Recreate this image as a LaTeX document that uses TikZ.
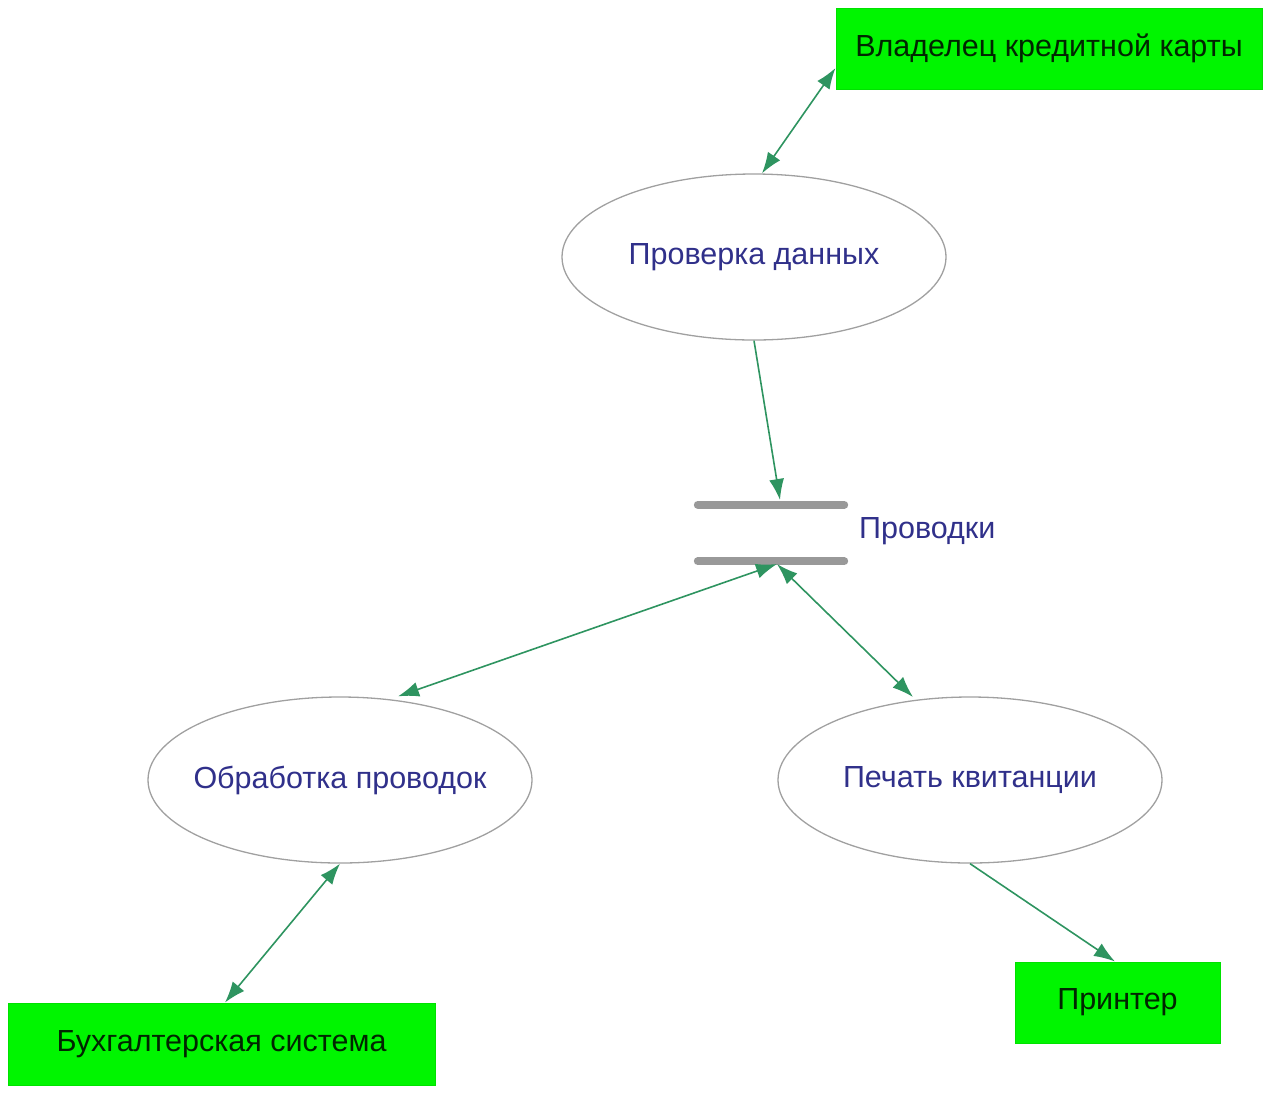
\documentclass[tikz,border=0pt]{standalone}
\usepackage{fontspec}
\setmainfont{Liberation Sans}
\usetikzlibrary{shapes.geometric,arrows.meta}
\definecolor{boxgreen}{HTML}{00F500}
\definecolor{flow}{HTML}{2E9460}
\definecolor{navytxt}{HTML}{30308A}
\definecolor{ellgray}{HTML}{A0A0A0}
\definecolor{storegray}{HTML}{999999}
\tikzset{
  ext/.style={fill=boxgreen, draw=boxgreen!80!black!40!boxgreen, line width=1pt, inner sep=0pt, font=\fontsize{30.5}{32}\selectfont, text=black!85!green},
  proc/.style={ellipse, draw=ellgray, line width=1.3pt, minimum width=384pt, minimum height=166pt, inner sep=0pt},
  proctext/.style={font=\fontsize{30.5}{32}\selectfont, text=navytxt, inner sep=0pt},
  flowline/.style={draw=flow, line width=1.6pt},
  tip/.style={-{Latex[length=21pt,width=15pt]}},
  dtip/.style={{Latex[length=21pt,width=15pt]}-{Latex[length=21pt,width=15pt]}},
  storebar/.style={draw=storegray, line width=8pt, line cap=round}
}
\begin{document}
\begin{tikzpicture}[x=1pt,y=-1pt]
\useasboundingbox (0,0) rectangle (1274,1096);
\node[ext, minimum width=426pt, minimum height=81pt] (owner) at (1049,48.5) {Владелец кредитной карты};
\node[proc] (check) at (754,257) {};
\node[proctext] (checkt) at (check.center) {Проверка данных};
\node[minimum width=154pt, minimum height=56pt, inner sep=0pt] (store) at (771,533) {};
\draw[storebar] ([xshift=4pt]store.north west) -- ([xshift=-4pt]store.north east);
\draw[storebar] ([xshift=4pt]store.south west) -- ([xshift=-4pt]store.south east);
\node[anchor=west, proctext] (storelbl) at (859,531) {Проводки};
\node[proc] (proc2) at (340,780) {};
\node[proctext] (proc2t) at (proc2.center) {Обработка проводок};
\node[proc] (print) at (970,780) {};
\node[proctext] (printt) at (print.center) {Печать квитанции};
\node[ext, minimum width=427pt, minimum height=82pt] (acct) at (221.5,1044) {Бухгалтерская система};
\node[ext, minimum width=205pt, minimum height=81pt] (printer) at (1117.5,1002.5) {Принтер};
\coordinate (stin) at (780,500);
\coordinate (stout) at (777,564);
\draw[flowline, dtip] (owner.west |- 0,68) -- (check.north -| 762,0);
\draw[flowline, tip] (check.south) -- (stin);
\draw[flowline, dtip] (stout) -- (proc2.north -| 398,0);
\draw[flowline, dtip] (stout) -- (913,697);
\draw[flowline, dtip] (proc2.south) -- (acct.north -| 225,0);
\draw[flowline, tip] (print.south) -- (printer.north -| 1115,0);
\end{tikzpicture}
\end{document}
